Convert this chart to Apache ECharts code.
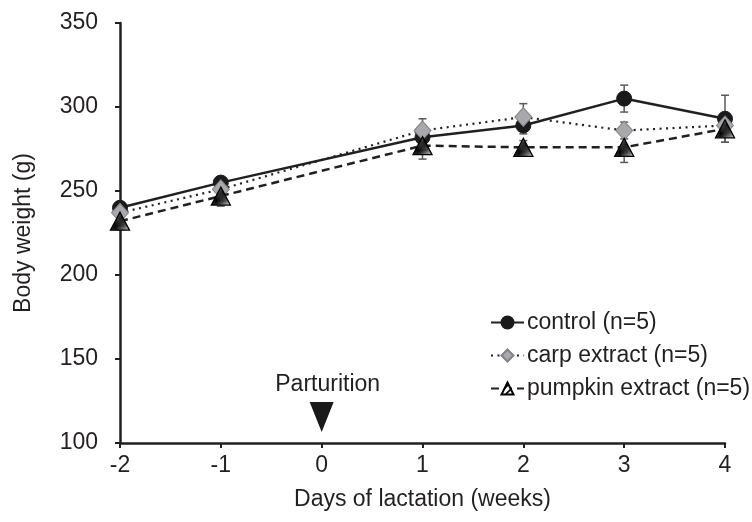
<!DOCTYPE html>
<html><head><meta charset="utf-8">
<script src="https://cdn.jsdelivr.net/npm/echarts@6/dist/echarts.min.js"></script>
<style>html,body{margin:0;padding:0;background:#fff}#c{width:752px;height:522px}</style>
</head><body><div id="c"></div>
<script>
var weeks = [-2, -1, 1, 2, 3, 4];
var controlMean = [240, 255, 282, 289, 305, 293];
var controlErr  = [3, 3, 4, 5, 8, 14];
var carpMean = [237, 251, 286, 294, 286, 289];
var carpErr  = [3, 3, 7, 8, 5, 4];
var pumpkinMean = [232, 247, 277, 276, 276, 287];
var pumpkinErr  = [5, 6, 8, 4, 9, 8];
var seriesNames = ['control (n=5)', 'carp extract (n=5)', 'pumpkin extract (n=5)'];
var xTicks = [-2, -1, 0, 1, 2, 3, 4];
var yTicks = [100, 150, 200, 250, 300, 350];
var parturition = {week: 0, weight: 115.5, text: 'Parturition'};

var ink = '#231f20';
var FONT = 'Liberation Sans, Arial, sans-serif';
var FS = 23;

// hatch pattern
var P = 7;
var pc = document.createElement('canvas');
pc.width = P; pc.height = P;
var g = pc.getContext('2d');
g.fillStyle = '#fff'; g.fillRect(0,0,P,P);
g.strokeStyle = '#000'; g.lineWidth = 1.6;
[[-1,P+1,P+1,-1],[-1,1,1,-1],[P-1,P+1,P+1,P-1]].forEach(function(s){
  g.beginPath(); g.moveTo(s[0],s[1]); g.lineTo(s[2],s[3]); g.stroke();
});

function pairs(m){ return weeks.map(function(w,i){return [w,m[i]];}); }
function errData(m,e){ return weeks.map(function(w,i){return [w,m[i]-e[i],m[i]+e[i]];}); }

function errSeries(m,e){
  return {
    type:'custom', silent:true, z:1,
    data: errData(m,e),
    renderItem: function(params, api){
      var x = api.value(0);
      var lo = api.coord([x, api.value(1)]);
      var hi = api.coord([x, api.value(2)]);
      var cw = 4;
      var st = {stroke:'#58595b', lineWidth:1.5};
      return {type:'group', children:[
        {type:'line', shape:{x1:lo[0],y1:lo[1],x2:hi[0],y2:hi[1]}, style:st},
        {type:'line', shape:{x1:lo[0]-cw,y1:lo[1],x2:lo[0]+cw,y2:lo[1]}, style:st},
        {type:'line', shape:{x1:hi[0]-cw,y1:hi[1],x2:hi[0]+cw,y2:hi[1]}, style:st}
      ]};
    }
  };
}

var chart = echarts.init(document.getElementById('c'), null, {renderer:'canvas'});
chart.setOption({
  animation:false,
  backgroundColor:'#fff',
  textStyle:{fontFamily:FONT},
  grid:{left:120, right:27, top:23, bottom:79, containLabel:false},
  legend:{
    orient:'vertical', left:485, top:306, itemGap:10,
    itemWidth:33, itemHeight:15,
    data: seriesNames,
    textStyle:{fontSize:FS, color:ink, fontFamily:FONT, padding:[0,0,0,-2]}
  },
  xAxis:{
    type:'value', min:-2, max:4, interval:1,
    name:'Days of lactation (weeks)', nameLocation:'middle', nameGap:45,
    nameTextStyle:{fontSize:FS, color:ink},
    axisLine:{onZero:false, lineStyle:{color:ink, width:2.5}},
    axisTick:{show:true, inside:false, length:5, lineStyle:{color:ink, width:2}},
    axisLabel:{fontSize:FS, color:ink, margin:11,
      formatter:function(v){ return xTicks.indexOf(v)>=0 ? String(v) : ''; }},
    splitLine:{show:false}
  },
  yAxis:{
    type:'value', min:100, max:350, interval:50,
    name:'Body weight (g)', nameLocation:'middle', nameGap:85, nameRotate:90,
    nameTextStyle:{fontSize:FS, color:ink},
    axisLine:{show:true, onZero:false, lineStyle:{color:ink, width:2.5}},
    axisTick:{show:true, inside:false, length:5, lineStyle:{color:ink, width:2}},
    axisLabel:{fontSize:FS, color:ink, margin:22,
      formatter:function(v){ return yTicks.indexOf(v)>=0 ? String(v) : ''; }},
    splitLine:{show:false}
  },
  series:[
    errSeries(controlMean, controlErr),
    errSeries(carpMean, carpErr),
    errSeries(pumpkinMean, pumpkinErr),
    {
      name:seriesNames[0], type:'line', z:5, data:pairs(controlMean),
      symbol:'circle', symbolSize:15,
      lineStyle:{color:ink, width:2.5, type:'solid'},
      itemStyle:{color:'#1a1a1a', borderColor:'#1a1a1a', borderWidth:1},
      markPoint:{
        silent:true,
        symbol:'triangle', symbolRotate:180, symbolSize:[24,30],
        itemStyle:{color:'#1a1a1a'},
        label:{show:true, position:'top', distance:6, offset:[6,0], formatter:parturition.text,
          fontSize:FS, color:ink, fontFamily:FONT},
        data:[{coord:[parturition.week, parturition.weight]}]
      }
    },
    {
      name:seriesNames[1], type:'line', z:6, data:pairs(carpMean),
      symbol:'diamond', symbolSize:[17,19],
      lineStyle:{color:ink, width:2.2, type:[2,4.5]},
      itemStyle:{color:'#a7a9ac', borderColor:'#808285', borderWidth:1}
    },
    {
      name:seriesNames[2], type:'line', z:7, data:pairs(pumpkinMean),
      symbol:'triangle', symbolSize:[19,18],
      lineStyle:{color:ink, width:2.5, type:[8,5]},
      itemStyle:{color:{image:pc, repeat:'repeat'}, borderColor:'#000', borderWidth:1.3}
    }
  ]
});
</script></body></html>
